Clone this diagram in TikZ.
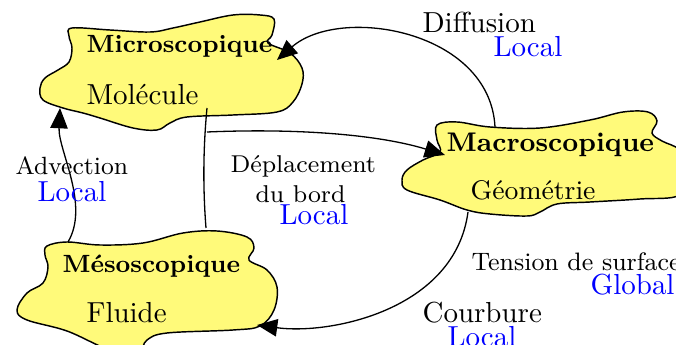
\documentclass[tikz,border=0pt]{standalone}
\usetikzlibrary{arrows.meta}
\definecolor{blobfill}{RGB}{255,250,122}
\begin{document}
\begin{tikzpicture}[x=0.345pt,y=-0.345pt,
  blob/.style={draw,line width=0.5pt,fill=blobfill},
  conn/.style={line width=0.45pt},
  arr/.style={conn,-{Triangle[length=7pt,width=6pt]}},
  lbl/.style={anchor=base west,inner sep=0pt},
  bigbf/.style={lbl,font=\fontsize{8.6}{10}\selectfont\bfseries},
  macbf/.style={lbl,font=\fontsize{9.3}{11}\selectfont\bfseries},
  nrm/.style={lbl,font=\fontsize{10}{12}\selectfont},
  smal/.style={lbl,font=\fontsize{8.6}{10}\selectfont},
  loc/.style={nrm,text=blue}]
\useasboundingbox (0,0) rectangle (676,345);
% blobs
\draw[blob] plot[smooth cycle,tension=0.6] coordinates {
  (72,28) (110,30) (150,32) (173,28) (200,22) (233,15) (260,15) (274,19)
  (272,35) (268,43) (290,53) (302,68) (302,84) (293,102) (277,112)
  (233,115) (187,117) (170,123) (157,130) (133,128) (100,118) (83,113)
  (63,108) (43,100) (40,88) (45,78) (58,70) (69,62) (72,48) (69,36)};
\draw[blob] plot[smooth cycle,tension=0.6] coordinates {
  (437,125) (457,122) (490,127) (540,128) (590,120) (623,112) (648,112)
  (657,121) (652,133) (662,141) (680,150) (692,170) (680,195) (640,199)
  (590,202) (557,204) (540,212) (527,216) (490,214) (467,210) (440,200)
  (407,190) (402,180) (407,170) (423,160) (440,152) (437,140)};
\draw[blob] plot[smooth cycle,tension=0.6] coordinates {
  (47,246) (67,242) (100,245) (143,243) (183,233) (217,231) (247,237)
  (254,248) (249,260) (267,270) (277,287) (274,310) (260,326) (233,330)
  (167,333) (147,340) (138,352) (110,350) (67,331) (27,320) (17,310)
  (27,293) (43,283) (48,267) (45,255)};
% node texts
\node[bigbf] (micro) at (86,53) {Microscopique};
\node[nrm] (mole) at (86,105) {Molécule};
\node[macbf] (macro) at (446,152) {Macroscopique};
\node[lbl,font=\fontsize{9.3}{11}\selectfont] (geom) at (470,200) {Géométrie};
\node[bigbf] (meso) at (62,272) {Mésoscopique};
\node[nrm] (fluide) at (86,322) {Fluide};
% connector end points
\coordinate (diffS) at (495,127);
\coordinate (diffE) at (277,60);
\coordinate (advS) at (68,242);
\coordinate (advE) at (60,108);
\coordinate (depS) at (206,228);
\coordinate (depE) at (207,108);
\coordinate (depB) at (207,132);
\coordinate (depT) at (445,155);
\coordinate (courS) at (468,212);
\coordinate (courE) at (257,325);
% connectors
\draw[arr] (diffS) .. controls (490,30) and (340,5) .. (diffE);
\draw[arr] (advS) .. controls (90,205) and (58,150) .. (advE);
\draw[conn] (depS) .. controls (203,190) and (203,150) .. (depE);
\draw[arr] (depB) .. controls (300,128) and (380,135) .. (depT);
\draw[arr] (courS) .. controls (455,310) and (330,335) .. (courE);
% labels
\node[nrm] (ldiff) at (422,33) {Diffusion};
\node[loc] (ldiffl) at (493,57) {Local};
\node[smal] (ladv) at (15,175) {Advection};
\node[loc] (ladvl) at (37,202) {Local};
\node[lbl,font=\fontsize{8.4}{10}\selectfont] (ldep) at (230,173) {Déplacement};
\node[lbl,font=\fontsize{8.4}{10}\selectfont] (ldep2) at (255,203) {du bord};
\node[loc] (ldepl) at (279,225) {Local};
\node[lbl,font=\fontsize{8.7}{10}\selectfont] (lten) at (471,270) {Tension de surface};
\node[loc] (ltenl) at (590,295) {Global};
\node[nrm] (lcour) at (422,322) {Courbure};
\node[loc] (lcourl) at (447,346) {Local};
\end{tikzpicture}
\end{document}
